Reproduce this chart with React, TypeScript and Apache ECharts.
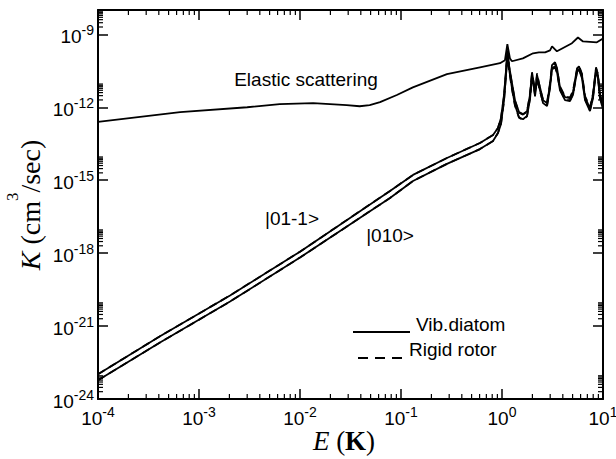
import React, { useEffect, useRef } from 'react';
import * as echarts from 'echarts';

// ---------- data ----------
const elasticE = [1e-4, 6.5e-4, 3.0e-3, 6.3e-3, 1.35e-2, 1.98e-2, 2.9e-2, 3.9e-2, 4.9e-2, 6.2e-2, 0.091, 0.131, 0.285, 0.605, 0.955, 1.07, 1.13, 1.2, 1.256, 1.61, 2.03, 2.32, 2.67, 2.99, 3.13, 3.5, 4.93, 5.65, 6.34, 8.7, 10];
const elasticK = [2.5e-13, 6.3e-13, 1.0e-12, 1.35e-12, 1.48e-12, 1.35e-12, 1.23e-12, 1.1e-12, 1.23e-12, 1.62e-12, 3.2e-12, 6.6e-12, 2.3e-11, 4.4e-11, 6.5e-11, 8.6e-11, 3.9e-10, 1.0e-10, 7.8e-11, 1.02e-10, 1.66e-10, 1.82e-10, 1.82e-10, 2.19e-10, 3.2e-10, 2.0e-10, 4.3e-10, 7.4e-10, 5.1e-10, 4.7e-10, 6.8e-10];

const inelasticE = [1e-4, 4.11e-4, 2.03e-3, 1e-2, 7.78e-2, 0.1315, 0.285, 0.605, 0.815, 0.912, 0.977, 1.047, 1.096, 1.133, 1.173, 1.256, 1.345, 1.473, 1.614, 1.77, 1.893, 1.982, 2.075, 2.123, 2.223, 2.377, 2.547, 2.793, 2.985, 3.126, 3.35, 3.508, 3.75, 4.207, 4.71, 5.047, 5.534, 5.781, 6.194, 6.637, 7.43, 7.962, 8.531, 8.913, 9.333, 10];

// |01-1>
const vib01m1K = [1.05e-23, 3.8e-22, 1.82e-20, 1.15e-18, 3.6e-16, 1.65e-15, 8.2e-15, 3.4e-14, 7.2e-14, 1.39e-13, 3.6e-13, 3.2e-12, 3.3e-11, 2.2e-10, 5.4e-11, 9.8e-12, 1.95e-12, 6.3e-13, 5.2e-13, 6.9e-13, 3.2e-12, 2.75e-11, 8.1e-12, 3.8e-12, 2.1e-11, 6.6e-12, 1.95e-12, 1.48e-12, 8.1e-12, 5.4e-11, 7.1e-11, 4.0e-11, 6.6e-12, 2.6e-12, 2.35e-12, 4.2e-12, 4.0e-11, 4.8e-11, 2.1e-11, 2.6e-12, 9.1e-13, 3.2e-12, 4.4e-11, 2.1e-11, 3.2e-12, 1.12e-12];
// |010>
const vib010K = [5.9e-24, 2.1e-22, 1.02e-20, 6.6e-19, 1.86e-16, 9.3e-16, 4.7e-15, 1.9e-14, 4.1e-14, 8.7e-14, 2.0e-13, 1.95e-12, 2.3e-11, 1.66e-10, 4.0e-11, 6.0e-12, 1.23e-12, 3.9e-13, 3.2e-13, 4.4e-13, 2.1e-12, 1.86e-11, 6.0e-12, 2.8e-12, 1.4e-11, 5.0e-12, 1.48e-12, 1.12e-12, 6.0e-12, 4.0e-11, 4.8e-11, 2.75e-11, 5.0e-12, 1.95e-12, 1.78e-12, 3.2e-12, 3.0e-11, 3.6e-11, 1.55e-11, 1.95e-12, 6.9e-13, 2.35e-12, 3.3e-11, 1.55e-11, 2.35e-12, 8.3e-13];
// rigid rotor (dashed) – nearly coincident with the vibrating diatom results
const rigid01m1K = [1.05e-23, 3.8e-22, 1.82e-20, 1.15e-18, 3.6e-16, 1.65e-15, 8.2e-15, 3.4e-14, 7.2e-14, 1.39e-13, 3.6e-13, 2.8e-12, 3.0e-11, 2.0e-10, 5.0e-11, 9.0e-12, 1.8e-12, 6.0e-13, 5.0e-13, 6.6e-13, 3.6e-12, 2.4e-11, 9.0e-12, 4.2e-12, 2.5e-11, 6.0e-12, 2.1e-12, 1.6e-12, 9.5e-12, 4.8e-11, 6.5e-11, 3.6e-11, 7.2e-12, 2.8e-12, 2.5e-12, 4.8e-12, 3.6e-11, 5.2e-11, 2.4e-11, 2.9e-12, 1.0e-12, 3.6e-12, 4.0e-11, 2.4e-11, 3.6e-12, 1.2e-12];
const rigid010K = [5.9e-24, 2.1e-22, 1.02e-20, 6.6e-19, 1.86e-16, 9.3e-16, 4.7e-15, 1.9e-14, 4.1e-14, 8.7e-14, 2.0e-13, 1.8e-12, 2.1e-11, 1.5e-10, 3.6e-11, 5.4e-12, 1.15e-12, 3.7e-13, 3.0e-13, 4.2e-13, 2.4e-12, 1.6e-11, 6.6e-12, 3.1e-12, 1.6e-11, 4.6e-12, 1.6e-12, 1.2e-12, 6.8e-12, 3.6e-11, 4.4e-11, 2.5e-11, 5.5e-12, 2.1e-12, 1.9e-12, 3.6e-12, 2.7e-11, 3.9e-11, 1.75e-11, 2.2e-12, 7.5e-13, 2.6e-12, 3.0e-11, 1.75e-11, 2.6e-12, 9.0e-13];

// axis settings (exponents of ten: both axes are logarithmic)
const X_MIN_EXP = -4;
const X_MAX_EXP = 1;
const Y_MIN_EXP = -24;
const Y_MAX_EXP = -8;
const Y_LABEL_STEP = 3;
const xLabelExponents = [-4, -3, -2, -1, 0, 1];
const yLabelExponents = [-24, -21, -18, -15, -12, -9];
const xDecadeExponents = [-4, -3, -2, -1, 0];
const minorMultipliers = [2, 3, 4, 5, 6, 7, 8, 9];

const logPairs = (xs: number[], ys: number[]) => xs.map((x, i) => [Math.log10(x), Math.log10(ys[i])]);

const SANS = 'Liberation Sans';
const SERIF = 'Liberation Serif';

const tickRich = {
  b: { fontFamily: SANS, fontSize: 19, lineHeight: 19, fill: '#000', padding: [4, 0, 0, 0] },
  s: { fontFamily: SANS, fontSize: 14, lineHeight: 14, fill: '#000', padding: [0, 0, 9, 0] },
};

export default function App() {
  const ref = useRef<HTMLDivElement>(null);

  useEffect(() => {
    if (!ref.current) return;
    const chart = echarts.init(ref.current, undefined, { renderer: 'svg' });

    const minorTickData: number[][] = [];
    xDecadeExponents.forEach((d) => {
      minorMultipliers.forEach((m) => minorTickData.push([d + Math.log10(m), Y_MIN_EXP, 0]));
    });
    yLabelExponents.forEach((d) => {
      minorMultipliers.forEach((m) => minorTickData.push([X_MIN_EXP, d + Math.log10(m), 1]));
    });

    const tickLabelData: number[][] = [];
    xLabelExponents.forEach((e) => tickLabelData.push([e, Y_MIN_EXP, 0]));
    yLabelExponents.forEach((e) => tickLabelData.push([X_MIN_EXP, e, 1]));

    const lineSeries = (name: string, data: number[][], dashed: boolean) => ({
      type: 'line',
      name,
      data,
      xAxisIndex: 0,
      yAxisIndex: 0,
      showSymbol: false,
      symbol: 'none',
      smooth: false,
      lineStyle: { color: '#000', width: 1.8, type: dashed ? [8, 5] : 'solid' },
      z: dashed ? 4 : 3,
    });

    const frameAxis = {
      type: 'value',
      axisLine: { show: true, onZero: false, lineStyle: { color: '#000', width: 2 } },
      axisTick: { show: true, inside: true, length: 10, lineStyle: { color: '#000', width: 1.5 } },
      axisLabel: { show: false },
      minorTick: { show: false },
      splitLine: { show: false },
    };

    chart.setOption({
      animation: false,
      backgroundColor: '#fff',
      textStyle: { fontFamily: SANS },
      grid: { left: 98, right: 13, top: 10, bottom: 60, containLabel: false },
      xAxis: [
        { ...frameAxis, min: X_MIN_EXP, max: X_MAX_EXP, interval: 1, position: 'bottom' },
        { ...frameAxis, min: X_MIN_EXP, max: X_MAX_EXP, interval: 1, position: 'top' },
      ],
      yAxis: [
        { ...frameAxis, min: Y_MIN_EXP, max: Y_MAX_EXP, interval: Y_LABEL_STEP, position: 'left' },
        { ...frameAxis, min: Y_MIN_EXP, max: Y_MAX_EXP, interval: Y_LABEL_STEP, position: 'right' },
      ],
      series: [
        lineSeries('Elastic scattering', logPairs(elasticE, elasticK), false),
        lineSeries('Vib.diatom |01-1>', logPairs(inelasticE, vib01m1K), false),
        lineSeries('Vib.diatom |010>', logPairs(inelasticE, vib010K), false),
        lineSeries('Rigid rotor |01-1>', logPairs(inelasticE, rigid01m1K), true),
        lineSeries('Rigid rotor |010>', logPairs(inelasticE, rigid010K), true),
        {
          type: 'custom',
          name: 'minor ticks',
          xAxisIndex: 0,
          yAxisIndex: 0,
          silent: true,
          clip: false,
          encode: { x: 0, y: 1 },
          data: minorTickData,
          z: 5,
          renderItem: (_params: any, api: any) => {
            const x = api.value(0);
            const y = api.value(1);
            const kind = api.value(2);
            const st = { stroke: '#000', lineWidth: 1.2 };
            if (kind === 0) {
              const pb = api.coord([x, Y_MIN_EXP]);
              const pt = api.coord([x, Y_MAX_EXP]);
              return {
                type: 'group',
                children: [
                  { type: 'line', shape: { x1: pb[0], y1: pb[1], x2: pb[0], y2: pb[1] - 5 }, style: st },
                  { type: 'line', shape: { x1: pt[0], y1: pt[1], x2: pt[0], y2: pt[1] + 5 }, style: st },
                ],
              };
            }
            const pl = api.coord([X_MIN_EXP, y]);
            const pr = api.coord([X_MAX_EXP, y]);
            return {
              type: 'group',
              children: [
                { type: 'line', shape: { x1: pl[0], y1: pl[1], x2: pl[0] + 5, y2: pl[1] }, style: st },
                { type: 'line', shape: { x1: pr[0], y1: pr[1], x2: pr[0] - 5, y2: pr[1] }, style: st },
              ],
            };
          },
        },
        {
          type: 'custom',
          name: 'tick labels',
          xAxisIndex: 0,
          yAxisIndex: 0,
          silent: true,
          clip: false,
          encode: { x: 0, y: 1 },
          data: tickLabelData,
          z: 5,
          renderItem: (_params: any, api: any) => {
            const x = api.value(0);
            const y = api.value(1);
            const kind = api.value(2);
            const p = api.coord([x, y]);
            if (kind === 0) {
              return {
                type: 'text',
                x: p[0],
                y: p[1] + 8,
                style: { text: `{b|10}{s|${Math.round(x)}}`, rich: tickRich, align: 'center', verticalAlign: 'top' },
              };
            }
            return {
              type: 'text',
              x: p[0] - 4,
              y: p[1],
              style: { text: `{b|10}{s|${Math.round(y)}}`, rich: tickRich, align: 'right', verticalAlign: 'middle' },
            };
          },
        },
      ],
      graphic: [
        {
          type: 'text',
          x: 344,
          y: 441,
          style: {
            text: '{i|E}{n| (}{b|K}{n|)}',
            align: 'center',
            verticalAlign: 'middle',
            rich: {
              i: { fontFamily: SERIF, fontStyle: 'italic', fontSize: 27, fill: '#000' },
              n: { fontFamily: SERIF, fontSize: 27, fill: '#000' },
              b: { fontFamily: SERIF, fontWeight: 'bold', fontSize: 27, fill: '#000' },
            },
          },
        },
        {
          type: 'text',
          x: 24,
          y: 205,
          rotation: Math.PI / 2,
          style: {
            text: '{i|K}{n| (cm}{s|3}{n|/sec)}',
            align: 'center',
            verticalAlign: 'middle',
            rich: {
              i: { fontFamily: SERIF, fontStyle: 'italic', fontSize: 28, lineHeight: 28, fill: '#000', padding: [13, 0, 0, 0] },
              n: { fontFamily: SERIF, fontSize: 28, lineHeight: 28, fill: '#000', padding: [13, 0, 0, 0] },
              s: { fontFamily: SERIF, fontSize: 17, lineHeight: 17, fill: '#000', padding: [0, 0, 24, 0] },
            },
          },
        },
        { type: 'text', x: 306, y: 79, style: { text: 'Elastic scattering', fontFamily: SANS, fontSize: 19, fill: '#000', align: 'center', verticalAlign: 'middle' } },
        { type: 'text', x: 292, y: 218, style: { text: '|01-1>', fontFamily: SANS, fontSize: 19, fill: '#000', align: 'center', verticalAlign: 'middle' } },
        { type: 'text', x: 390, y: 235, style: { text: '|010>', fontFamily: SANS, fontSize: 19, fill: '#000', align: 'center', verticalAlign: 'middle' } },
        { type: 'line', shape: { x1: 353, y1: 332, x2: 410, y2: 332 }, style: { stroke: '#000', lineWidth: 1.8 } },
        { type: 'text', x: 416, y: 324, style: { text: 'Vib.diatom', fontFamily: SANS, fontSize: 19, fill: '#000', align: 'left', verticalAlign: 'middle' } },
        { type: 'line', shape: { x1: 358, y1: 358, x2: 402, y2: 358 }, style: { stroke: '#000', lineWidth: 1.8, lineDash: [10, 7] } },
        { type: 'text', x: 409, y: 349, style: { text: 'Rigid rotor', fontFamily: SANS, fontSize: 19, fill: '#000', align: 'left', verticalAlign: 'middle' } },
      ],
    });

    return () => chart.dispose();
  }, []);

  return <div ref={ref} style={{ position: 'fixed', left: 0, top: 0, width: 616, height: 459, background: '#fff' }} />;
}
